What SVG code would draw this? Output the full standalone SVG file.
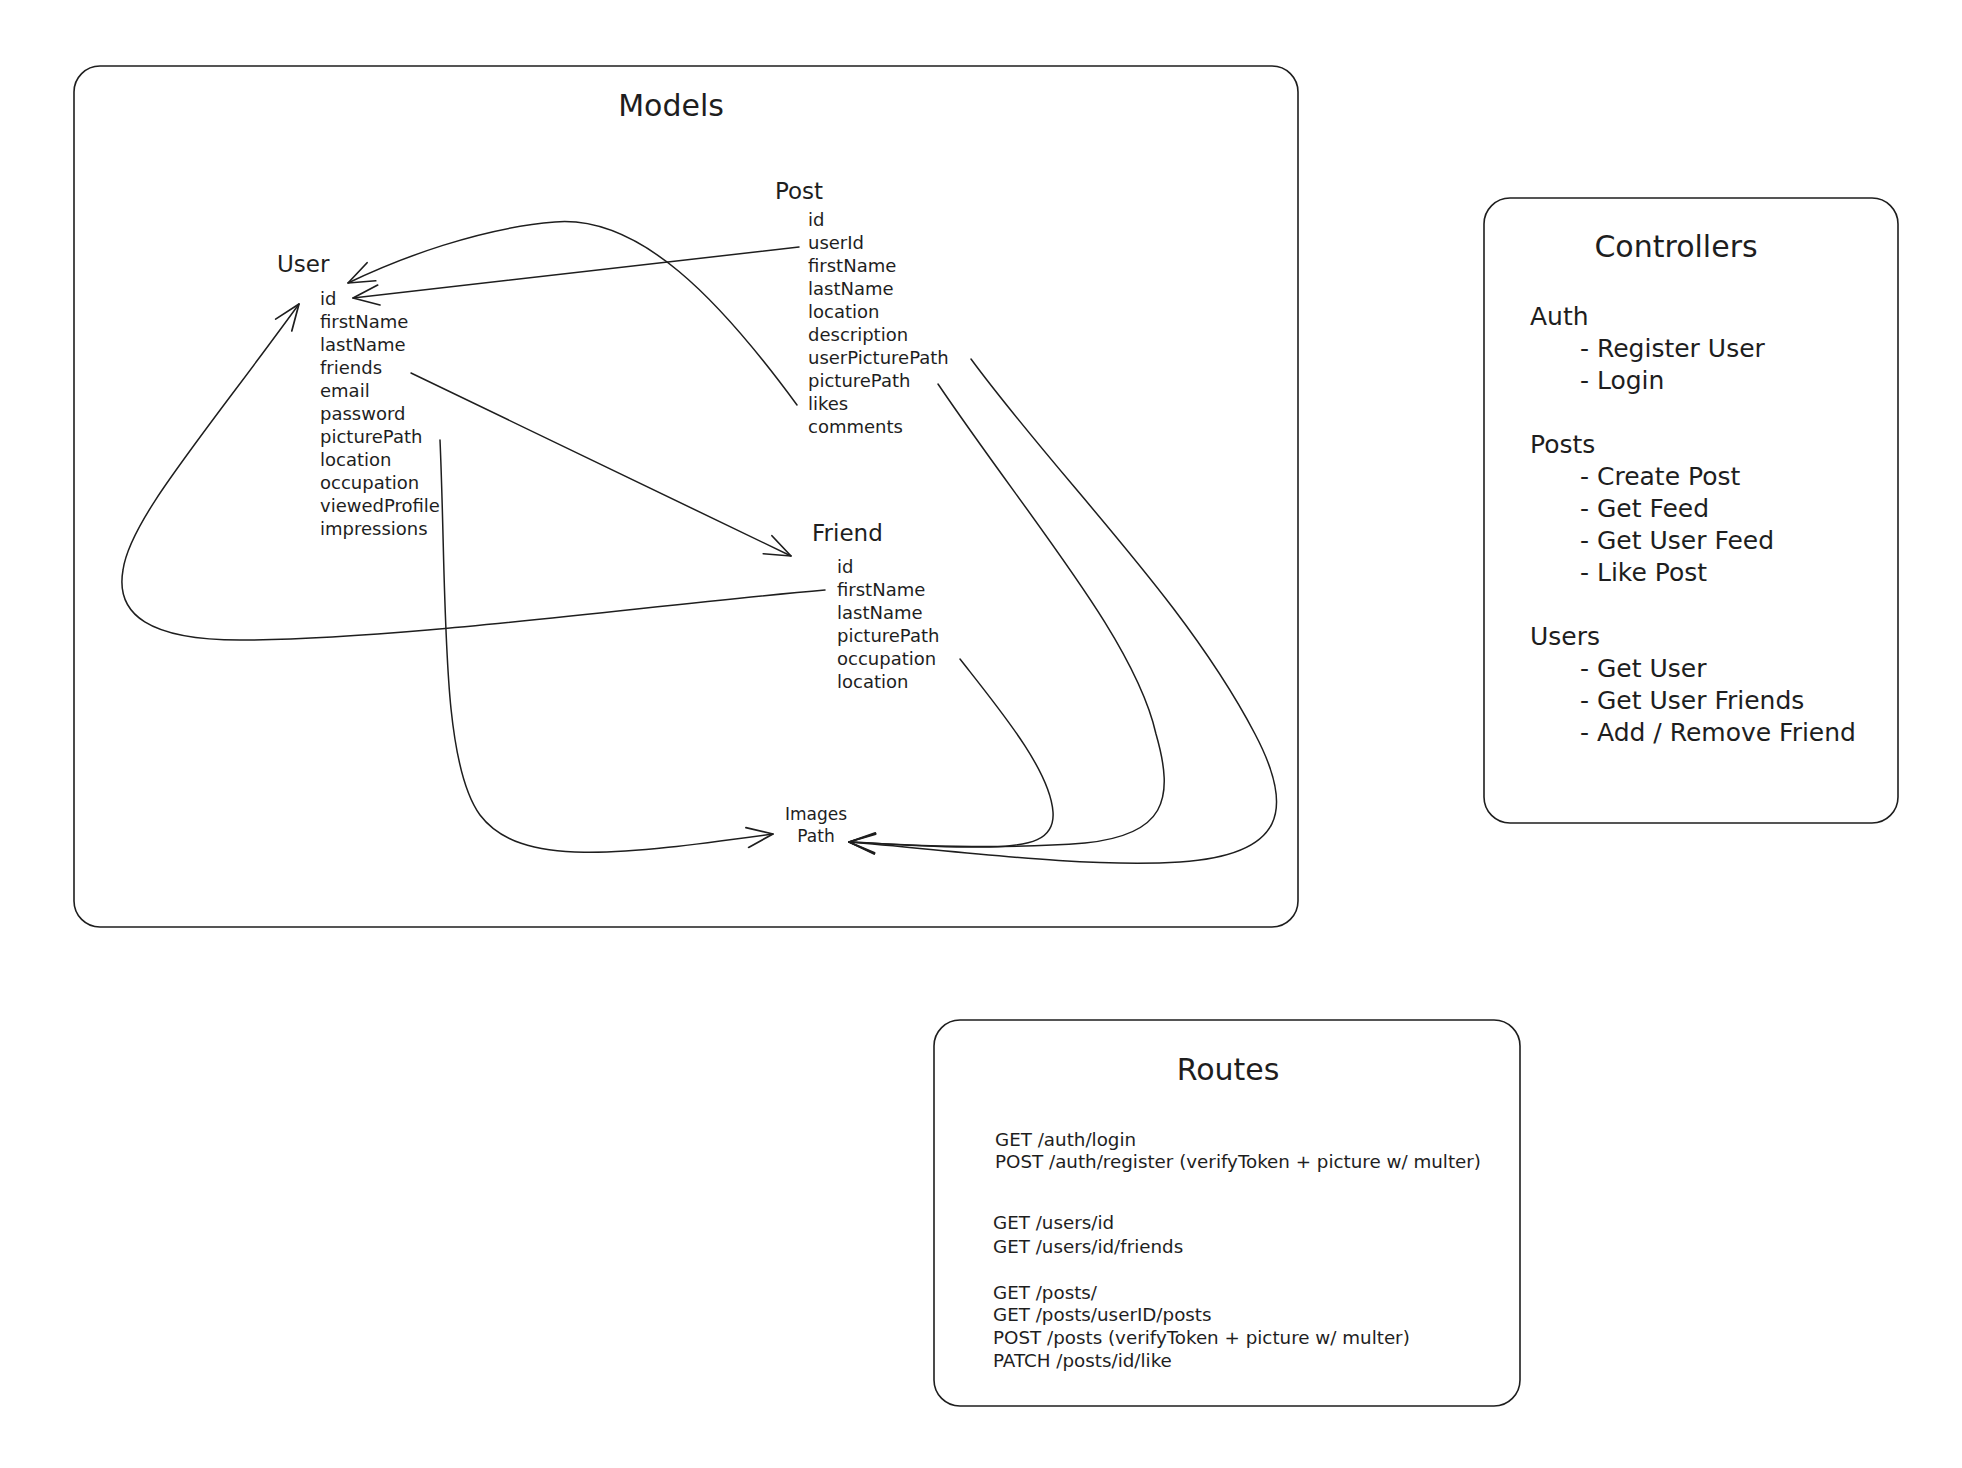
<svg xmlns="http://www.w3.org/2000/svg" width="1962" height="1468" viewBox="0 0 1962 1468">
<style>
text{font-family:"DejaVu Sans","Liberation Sans",sans-serif;fill:#1e1e1e}
.box{fill:none;stroke:#1e1e1e;stroke-width:1.6}
.title{font-size:30px;text-anchor:middle}
.ent{font-size:23px}
.fld{font-size:18px}
.ctl{font-size:25px}
.rt{font-size:18.3px}
.img{font-size:17px;text-anchor:middle}
.con{fill:none;stroke:#1e1e1e;stroke-width:1.5;stroke-linecap:round}
</style>
<defs>
<marker id="ah" markerUnits="userSpaceOnUse" markerWidth="40" markerHeight="40" refX="0" refY="0" viewBox="-35 -20 40 40" orient="auto" overflow="visible">
<path d="M-26,-10 L0,0 L-26,10" fill="none" stroke="#1e1e1e" stroke-width="1.7" stroke-linecap="round" stroke-linejoin="round"/>
</marker>
</defs>
<rect width="1962" height="1468" fill="#ffffff"/>

<g id="models">
<rect class="box" x="74" y="66" width="1224" height="861" rx="26"/>
<text class="title" x="671" y="116">Models</text>
</g>

<g id="user">
<text class="ent" x="277" y="272">User</text>
<text class="fld" x="320" y="305">id</text>
<text class="fld" x="320" y="328">firstName</text>
<text class="fld" x="320" y="351">lastName</text>
<text class="fld" x="320" y="374">friends</text>
<text class="fld" x="320" y="397">email</text>
<text class="fld" x="320" y="420">password</text>
<text class="fld" x="320" y="443">picturePath</text>
<text class="fld" x="320" y="466">location</text>
<text class="fld" x="320" y="489">occupation</text>
<text class="fld" x="320" y="512">viewedProfile</text>
<text class="fld" x="320" y="535">impressions</text>
</g>

<g id="post">
<text class="ent" x="775" y="199">Post</text>
<text class="fld" x="808" y="226">id</text>
<text class="fld" x="808" y="249">userId</text>
<text class="fld" x="808" y="272">firstName</text>
<text class="fld" x="808" y="295">lastName</text>
<text class="fld" x="808" y="318">location</text>
<text class="fld" x="808" y="341">description</text>
<text class="fld" x="808" y="364">userPicturePath</text>
<text class="fld" x="808" y="387">picturePath</text>
<text class="fld" x="808" y="410">likes</text>
<text class="fld" x="808" y="433">comments</text>
</g>

<g id="friend">
<text class="ent" x="812" y="541">Friend</text>
<text class="fld" x="837" y="573">id</text>
<text class="fld" x="837" y="596">firstName</text>
<text class="fld" x="837" y="619">lastName</text>
<text class="fld" x="837" y="642">picturePath</text>
<text class="fld" x="837" y="665">occupation</text>
<text class="fld" x="837" y="688">location</text>
</g>

<g id="images">
<text class="img" x="816" y="820">Images</text>
<text class="img" x="816" y="842">Path</text>
</g>

<g id="controllers">
<rect class="box" x="1484" y="198" width="414" height="625" rx="26"/>
<text class="title" x="1676" y="257">Controllers</text>
<text class="ctl" x="1530" y="325">Auth</text>
<text class="ctl" x="1580" y="357">- Register User</text>
<text class="ctl" x="1580" y="389">- Login</text>
<text class="ctl" x="1530" y="453">Posts</text>
<text class="ctl" x="1580" y="485">- Create Post</text>
<text class="ctl" x="1580" y="517">- Get Feed</text>
<text class="ctl" x="1580" y="549">- Get User Feed</text>
<text class="ctl" x="1580" y="581">- Like Post</text>
<text class="ctl" x="1530" y="645">Users</text>
<text class="ctl" x="1580" y="677">- Get User</text>
<text class="ctl" x="1580" y="709">- Get User Friends</text>
<text class="ctl" x="1580" y="741">- Add / Remove Friend</text>
</g>

<g id="routes">
<rect class="box" x="934" y="1020" width="586" height="386" rx="26"/>
<text class="title" x="1228" y="1080">Routes</text>
<text class="rt" x="995" y="1146">GET /auth/login</text>
<text class="rt" x="995" y="1168">POST /auth/register (verifyToken + picture w/ multer)</text>
<text class="rt" x="993" y="1229">GET /users/id</text>
<text class="rt" x="993" y="1253">GET /users/id/friends</text>
<text class="rt" x="993" y="1299">GET /posts/</text>
<text class="rt" x="993" y="1321">GET /posts/userID/posts</text>
<text class="rt" x="993" y="1344">POST /posts (verifyToken + picture w/ multer)</text>
<text class="rt" x="993" y="1367">PATCH /posts/id/like</text>
</g>

<g id="connectors">
<path class="con" marker-end="url(#ah)" d="M797,405 C720,300 640,215 555,222 C480,228 400,258 348,283"/>
<path class="con" marker-end="url(#ah)" d="M799,247 L353,298"/>
<path class="con" marker-end="url(#ah)" d="M411,373 L791,556"/>
<path class="con" marker-end="url(#ah)" d="M825,590 C650,605 400,640 240,640 C150,640 115,615 123,570 C130,520 200,440 299,304"/>
<path class="con" marker-end="url(#ah)" d="M440,440 C447,600 440,760 480,815 C520,868 620,855 773,834"/>
<path class="con" marker-end="url(#ah)" d="M971,359 C1060,480 1185,600 1255,734 C1295,810 1285,855 1180,862 C1080,868 950,850 849,842"/>
<path class="con" marker-end="url(#ah)" d="M938,384 C1030,520 1135,640 1156,734 C1175,800 1165,835 1085,843 C1000,850 900,845 849,842"/>
<path class="con" marker-end="url(#ah)" d="M960,659 C1000,710 1050,770 1053,812 C1055,840 1030,846 990,847 C930,848 880,843 849,842"/>
</g>
</svg>
